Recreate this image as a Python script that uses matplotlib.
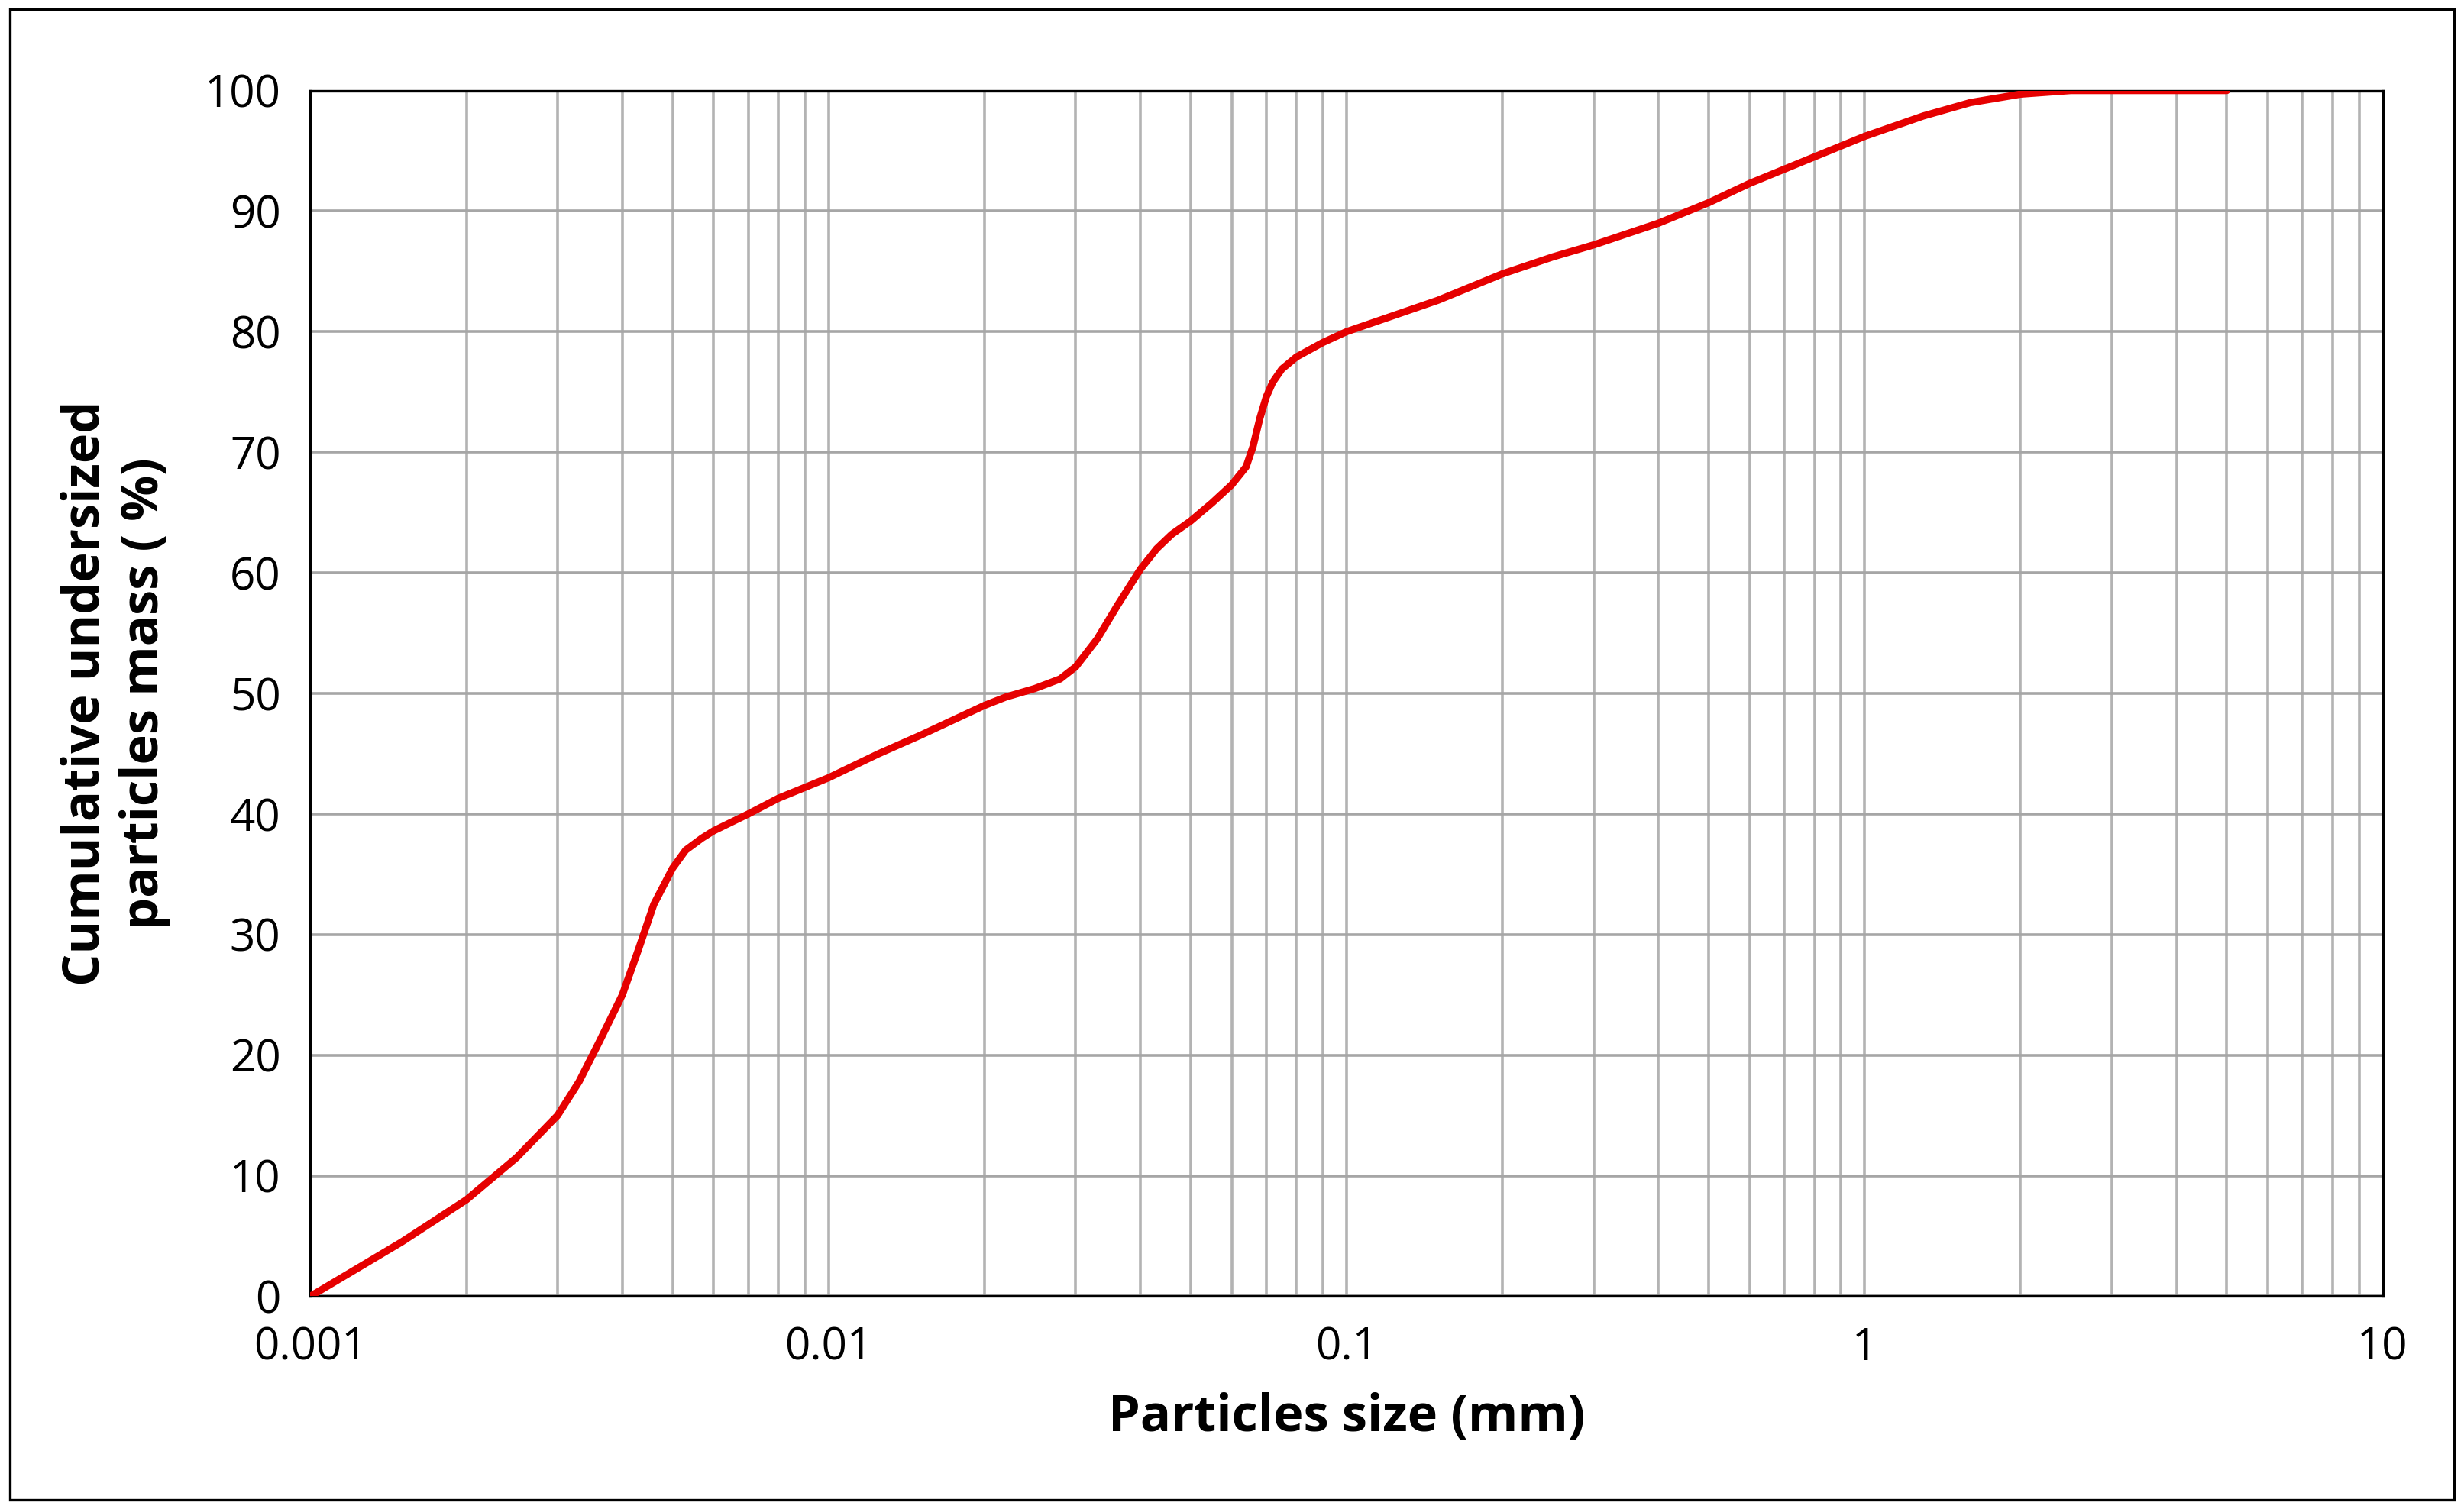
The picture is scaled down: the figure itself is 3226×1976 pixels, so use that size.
import matplotlib.pyplot as plt
from matplotlib.ticker import FixedLocator, LogLocator, NullFormatter
from matplotlib.patches import Rectangle

plt.rcParams['font.family'] = ['Open Sans', 'DejaVu Sans']

# values
size_mm = [0.001, 0.0015, 0.002, 0.0025, 0.003, 0.0033, 0.0036, 0.004, 0.0043, 0.0046, 0.005, 0.0053,
           0.0057, 0.006, 0.007, 0.008, 0.01, 0.0125, 0.015, 0.02, 0.022, 0.025, 0.028, 0.03, 0.033, 0.036,
           0.04, 0.043, 0.046, 0.05, 0.055, 0.06, 0.064, 0.066, 0.068, 0.07, 0.072, 0.075, 0.08, 0.09, 0.1,
           0.15, 0.2, 0.25, 0.3, 0.4, 0.5, 0.6, 0.8, 1.0, 1.3, 1.6, 2.0, 2.5, 3.0, 5.0]
passing = [0, 4.5, 8, 11.5, 15, 17.8, 21, 25, 28.8, 32.5, 35.5, 37,
           38, 38.6, 40, 41.3, 43, 45, 46.5, 49, 49.7, 50.4, 51.2, 52.2, 54.5, 57.2,
           60.3, 62, 63.2, 64.3, 65.8, 67.3, 68.8, 70.5, 72.8, 74.6, 75.8, 76.9, 77.9, 79.1, 80,
           82.6, 84.8, 86.2, 87.2, 89, 90.7, 92.3, 94.5, 96.2, 97.9, 99, 99.7, 100, 100, 100]

fig = plt.figure(figsize=(16.13, 9.88), dpi=200)
ax = fig.add_axes([0.126, 0.141, 0.841, 0.799])
fig.patches.append(Rectangle((0.004, 0.006), 0.992, 0.988, transform=fig.transFigure,
                             fill=False, edgecolor='black', linewidth=1.2))

ax.plot(size_mm, passing, color='#e60000', linewidth=3.4, solid_capstyle='round',
        solid_joinstyle='round', zorder=3)
ax.set_xscale('log')
ax.set_xlim(0.001, 10)
ax.set_ylim(0, 100)
ax.yaxis.set_major_locator(FixedLocator(range(0, 101, 10)))
ax.xaxis.set_major_locator(FixedLocator([0.001, 0.01, 0.1, 1, 10]))
ax.set_xticklabels(['0.001', '0.01', '0.1', '1', '10'])
ax.xaxis.set_minor_locator(LogLocator(base=10, subs=range(2, 10)))
ax.xaxis.set_minor_formatter(NullFormatter())
ax.grid(True, which='both', axis='x', color='#b3b3b3', linewidth=1.3)
ax.grid(True, which='major', axis='y', color='#a6a6a6', linewidth=1.3)
ax.tick_params(which='both', length=0, labelsize=21, pad=14)
for s in ax.spines.values():
    s.set_linewidth(1.2)
ax.set_xlabel('Particles size (mm)', fontsize=24, fontweight='bold', labelpad=10)
ax.set_ylabel('Cumulative undersized\nparticles mass ( %)', fontsize=24, fontweight='bold', labelpad=16)

fig.savefig('out.png')
